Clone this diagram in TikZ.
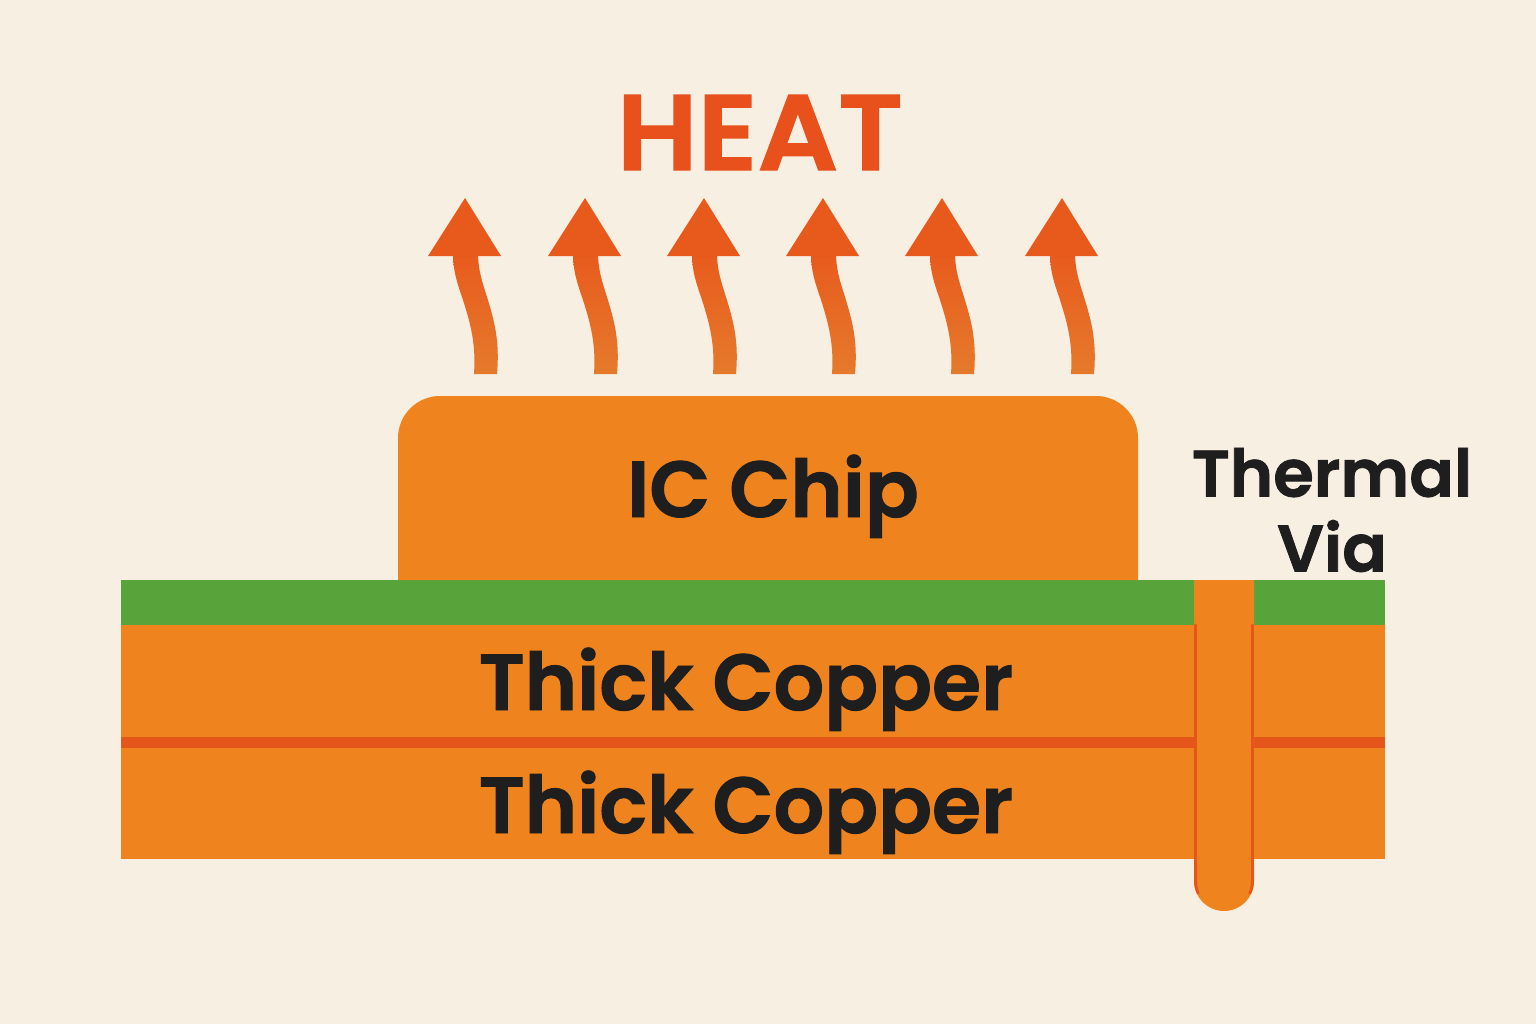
\documentclass[tikz,border=0pt]{standalone}
\usepackage{fontspec}
\setmainfont{Poppins}[BoldFont={Poppins SemiBold},BoldFeatures={FakeBold=1.2}]
\definecolor{paper}{HTML}{F8EFE3}
\definecolor{copper}{HTML}{EF831D}
\definecolor{mask}{HTML}{58A33A}
\definecolor{seam}{HTML}{E5561A}
\definecolor{heatred}{HTML}{E8511C}
\definecolor{heathead}{HTML}{E85A1C}
\definecolor{heatlow}{HTML}{E57A2C}
\definecolor{ink}{HTML}{1E1E1E}
\tikzset{
  label text/.style={font=\fontsize{22.6}{23}\selectfont\bfseries, text=ink, align=center, inner sep=0pt, anchor=base},
  heat head/.style={fill=heathead},
}
\begin{document}
\begin{tikzpicture}[x=0.01cm, y=-0.01cm]
\useasboundingbox (0,0) rectangle (1536,1024);
\fill [paper] (0,0) rectangle (1536,1024);

% board
\fill [copper] (121,625) rectangle (1385,859);
\fill [mask] (121,580) rectangle (1385,625);
\fill [seam] (121,737) rectangle (1385,748);

% chip
\fill [copper] (398,580) -- (398,438) arc (180:90:42 and -42) -- (1096,396)
    arc (90:0:42 and -42) -- (1138,580) -- cycle;

% via
\fill [copper] (1194,580) -- (1254,580) -- (1254,881) arc (0:-180:30 and -30) -- cycle;
\draw [seam, line width=0.8pt, line cap=round] (1195.5,625) -- (1195.5,881) arc (-180:-155:28.5 and -28.5);
\draw [seam, line width=0.8pt, line cap=round] (1252.5,625) -- (1252.5,881) arc (0:-25:28.5 and -28.5);

% arrows
\foreach \xa in {0,120,239,358,477,597}{
  \shade [bottom color=heatlow, top color=heathead, shift={(\xa,0)}]
    (474,374) .. controls (476,345) and (471,325) .. (463,300)
    .. controls (457,282) and (453,272) .. (453,252)
    -- (478,252) .. controls (478,270) and (482,281) .. (487,297)
    .. controls (494,320) and (500,340) .. (497,374) -- cycle;
  \fill [heat head, shift={(\xa,0)}] (465,198) -- (501,256) -- (428,256) -- cycle;
}

\node [font=\fontsize{30.5}{32}\selectfont\bfseries, text=heatred, inner sep=0pt, anchor=base, xscale=1.05] (heat) at (760,170) {HEAT};
\node [label text] (chip) at (773,517) {IC Chip};
\node [label text] (cu1) at (746,710) {Thick Copper};
\node [label text] (cu2) at (746,833) {Thick Copper};
\node [label text, anchor=center, font=\fontsize{18.7}{21.3}\selectfont\bfseries] (via) at (1332,510) {Thermal\\Via};
\end{tikzpicture}
\end{document}
